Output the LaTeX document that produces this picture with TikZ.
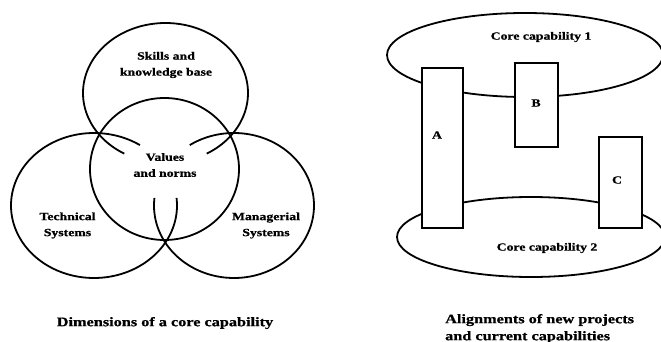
\documentclass[tikz,border=0pt]{standalone}
\usepackage{fontspec}
\setmainfont{Liberation Serif}
\newfontfamily\lbl{Liberation Serif}[FakeStretch=1.25, FakeBold=0.8]
\begin{document}
\begin{tikzpicture}[x=1pt,y=-1pt,
  ln/.style={line width=1.8pt},
  lab/.style={font=\lbl\bfseries\fontsize{11}{16}\selectfont, align=center, inner sep=0pt},
  captxt/.style={font=\lbl\bfseries\fontsize{13}{17}\selectfont, inner sep=0pt},
  proj/.style={draw, line width=1.8pt, fill=white, inner sep=0pt, outer sep=0pt}]
\useasboundingbox (0,0) rectangle (661,342);
% ---- left figure: dimensions of a core capability ----
\draw[ln] (164.5,169) ellipse [x radius=74.5, y radius=71];
\draw[ln] plot[domain=120:420, samples=160, smooth] ({165.5+82.5*cos(\x)},{93+70*sin(\x)});
\draw[ln] plot[domain=-6:303.6, samples=160, smooth] ({94+83*cos(\x)},{205.5+72.5*sin(\x)});
\draw[ln] plot[domain=236.4:546, samples=160, smooth] ({234+80*cos(\x)},{205.5+72.5*sin(\x)});
\node[lab] (skills) at (166,65) {Skills and\\knowledge base};
\node[lab] (values) at (165,165) {Values\\and norms};
\node[lab] (tech) at (67.5,225.5) {Technical\\Systems};
\node[lab] (mgmt) at (266,225.5) {Managerial\\Systems};
\node[captxt] (cap1) at (165,323) {Dimensions of a core capability};
% ---- right figure: alignments ----
\draw[ln] (525,55) ellipse [x radius=138, y radius=42];
\draw[ln] (531,237) ellipse [x radius=134, y radius=40];
\node[proj, minimum width=41pt, minimum height=160pt] (A) at (442.5,148) {};
\node[proj, minimum width=43pt, minimum height=84pt] (B) at (536.5,105) {};
\node[proj, minimum width=43pt, minimum height=91pt] (C) at (620.5,182.5) {};
\node[lab] (la) at (437,135) {A};
\node[lab] (lb) at (536,103) {B};
\node[lab] (lc) at (617,180) {C};
\node[lab] (core1) at (541,37) {Core capability 1};
\node[lab] (core2) at (547,248) {Core capability 2};
\node[captxt, align=left, anchor=west] (cap2) at (445,328.5) {Alignments of new projects\\and current capabilities};
\end{tikzpicture}
\end{document}
